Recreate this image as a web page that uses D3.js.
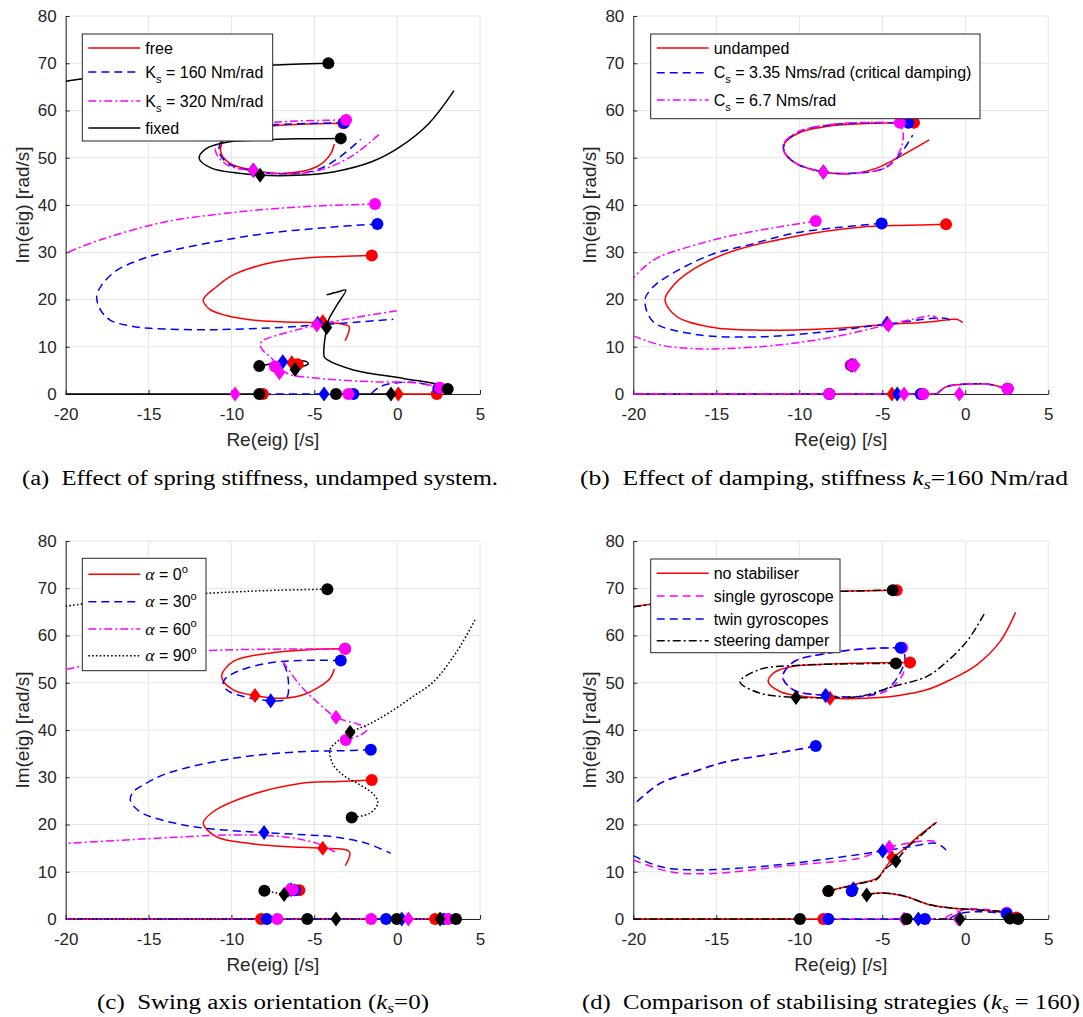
<!DOCTYPE html>
<html>
<head>
<meta charset="utf-8">
<script src="https://cdn.jsdelivr.net/npm/d3@7"></script>
<style>
  body { margin: 0; background: #fff; }
  svg { display: block; }
</style>
</head>
<body>
<svg id="fig" width="1083" height="1017"></svg>
<script>
// ---------- shared axes ----------
const X_TICKS = [-20, -15, -10, -5, 0, 5];
const Y_TICKS = [0, 10, 20, 30, 40, 50, 60, 70, 80];

// ---------- (a) effect of spring stiffness ----------
const A_LABELS = ["free", "K_s = 160 Nm/rad", "K_s = 320 Nm/rad", "fixed"];

const aFreeLoop = [[-3.25,57.3],[-5.86,57.1],[-7.87,56.7],[-9.89,56.3],[-10.49,53.8],[-10.65,51.3],[-10.09,48.8],[-8.68,47.4],[-6.87,46.7],[-4.85,48.1],[-4.05,50.6],[-3.79,52.9]];
const aFreeMid = [[-1.53,29.3],[-3.5,29.1],[-5.86,28.7],[-7.5,27.9],[-8.88,26.6],[-10,25.0],[-10.9,22.7],[-11.7,19.9],[-11.3,17.9],[-10.3,16.6],[-8.88,15.7],[-7,15.3],[-4.85,15.1],[-3.5,14.9],[-2.9,14.3],[-2.95,12.8],[-3.14,11.3]];
const aFreeAxis = [[0.07,0],[2.39,0]];
const aFreeCircles = [[-3.25,57.3],[-1.53,29.3],[-8.1,0],[2.39,0],[-6.0,6.3]];
const aFreeDiamonds = [[-8.68,47.4],[-4.49,15.3],[-6.36,6.6],[0.07,0]];

const aK160Loop = [[-3.2,57.4],[-5.86,57.2],[-7.87,56.9],[-9.89,56.4],[-10.55,54.0],[-10.75,51.3],[-10.2,48.8],[-8.68,47.2],[-6.87,46.6],[-4.85,47.4],[-3.45,50.2],[-2.2,53.9]];
const aK160Mid = [[-1.19,36.0],[-4,35.3],[-7.87,34.0],[-11,32.2],[-13.9,30.1],[-15.6,28.3],[-16.9,26.2],[-17.8,23.2],[-18.13,20.6],[-17.9,17.8],[-17.3,15.6],[-16.1,14.4],[-14.9,13.9],[-12,13.6],[-9.9,13.7],[-7,14.1],[-4.85,14.6],[-2.5,15.2],[-0.23,15.8]];
const aK160Low = [[-1.55,0.1],[-1.03,1.55],[0.0,2.4],[1.39,2.3],[2.49,1.2]];
const aK160Axis = [[-8.1,0],[-4.41,0]];
const aK160Circles = [[-3.2,57.4],[-1.19,36.0],[-2.64,0],[2.49,1.2]];
const aK160Diamonds = [[-8.68,47.3],[-4.8,15.0],[-6.9,6.8],[-4.41,0]];

const aK320Loop = [[-3.08,58.0],[-5.86,57.8],[-7.87,57.4],[-9.89,56.8],[-10.75,54.3],[-10.95,51.3],[-10.3,48.6],[-8.68,47.2],[-6.87,46.6],[-4.85,47.2],[-2.8,50.2],[-1.07,55.0]];
const aK320Mid = [[-1.33,40.2],[-4.8,39.8],[-7.87,39.1],[-9.9,38.4],[-13.9,36.5],[-17.93,32.6],[-20,29.8]];
const aK320Low = [[-0.02,17.6],[-2.5,16.2],[-4.85,14.6],[-6.87,12.8],[-8.0,11.5],[-8.27,10.6],[-8.1,9.2],[-7.67,7.9],[-6.66,4.4],[-4.65,3.3],[-1.63,2.6],[1.39,2.3],[2.59,1.3]];
const aK320Circles = [[-3.08,58.0],[-1.33,40.2],[-2.94,0],[2.59,1.3],[-7.37,5.8]];
const aK320Diamonds = [[-8.68,47.3],[-4.85,14.6],[-7.1,4.5],[-9.78,0]];

const aFixedTop = [[-20,66.2],[-17,67.6],[-14,68.5],[-10,69.3],[-7,69.7],[-4.15,70.0]];
const aFixedLoop = [[-3.4,54.1],[-6.0,54.0],[-8.5,53.7],[-10.1,53.4],[-11.5,52.0],[-11.95,49.9],[-11.2,47.8],[-9.5,46.7],[-8.27,46.3],[-6.0,46.3],[-3.85,47.0],[-1.5,49.2],[0.17,52.3],[1.9,57.2],[3.43,64.2]];
const aFixedLow = [[3.05,1.06],[2.59,1.9],[0.37,3.3],[-2.64,5.1],[-4.2,7.2],[-4.4,7.9],[-4.4,10.5],[-4.3,13],[-4.25,14.1],[-4.1,16],[-3.6,19],[-3.1,22.0],[-3.6,21.6],[-4.25,21.0]];
const aFixedSmall = [[-8.32,5.9],[-7.2,6.6],[-6.2,7.0],[-5.5,6.9],[-5.36,6.4],[-5.8,5.7],[-6.16,5.2]];
const aFixedAxisL = [[-20,0],[-8.32,0]];
const aFixedAxisR = [[-3.69,0],[-0.37,0]];
const aFixedCircles = [[-4.15,70.0],[-3.4,54.1],[3.05,1.06],[-8.32,5.9],[-8.32,0],[-3.69,0]];
const aFixedDiamonds = [[-8.27,46.3],[-4.25,14.1],[-6.16,5.2],[-0.37,0]];

// ---------- (b) effect of damping ----------
const B_LABELS = ["undamped", "C_s = 3.35 Nms/rad (critical damping)", "C_s = 6.7 Nms/rad"];

const bUndLoop = [[-3.09,57.4],[-5.5,57.3],[-8,56.8],[-10,55.3],[-10.9,53.0],[-10.92,51.3],[-10.2,48.8],[-8.55,47.0],[-6.95,46.6],[-5.34,47.8],[-4.34,49.5],[-2.17,53.8]];
const bUndMid = [[-1.16,35.9],[-3.5,35.7],[-6.35,35.3],[-10.36,33.3],[-14.37,29.8],[-16.78,25.5],[-17.7,22.5],[-18.09,19.9],[-17.39,16.4],[-15.38,14.2],[-12.37,13.5],[-8.35,13.8],[-4.73,14.7],[-2,15.3],[-0.52,15.8],[-0.16,15.1]];
const bUndSmall = [[-1.72,0],[-1.12,1.55],[0.08,2.1],[1.29,2.1],[2.55,1.1]];
const bUndAxis = [[-20,0],[-1.72,0]];
const bUndCircles = [[-3.09,57.4],[-1.16,35.9],[-6.9,6.1],[-8.19,0],[-2.6,0],[2.55,1.1]];
const bUndDiamonds = [[-8.55,47.0],[-4.73,15.0],[-6.9,6.1],[-4.42,0]];

const bCritLoop = [[-3.43,57.4],[-5.5,57.4],[-8,57.0],[-10,55.5],[-10.9,53.0],[-10.9,51.3],[-10.2,48.8],[-8.55,47.0],[-6.95,46.7],[-5,47.6],[-4.34,49.2],[-3.74,51.6],[-3.17,54.8]];
const bCritMid = [[-5.04,36.1],[-7.5,35.3],[-10.36,34.0],[-13,31.6],[-15.38,29.4],[-17.99,24.8],[-18.9,22.3],[-19.3,19.9],[-18.8,15.3],[-16.39,12.7],[-12.37,12.1],[-8.35,13.2],[-4.73,14.8],[-1.12,16.0],[-0.95,15.5]];
const bCritSmall = [[-1.72,0],[-1.12,1.55],[0.08,2.1],[1.29,2.1],[2.55,1.1]];
const bCritAxis = [[-20,0],[-1.72,0]];
const bCritCircles = [[-3.43,57.4],[-5.04,36.1],[-6.85,6.1],[-8.19,0],[-2.69,0],[2.55,1.1]];
const bCritDiamonds = [[-8.55,47.0],[-4.7,14.9],[-6.8,6.1],[-4.1,0]];

const bHighLoop = [[-3.94,57.4],[-5.5,57.5],[-8,57.1],[-10,55.6],[-10.95,53.0],[-10.9,51.3],[-10.2,48.8],[-8.55,47.0],[-6.95,46.7],[-5,47.6],[-4.43,48.8],[-3.84,52.3],[-3.74,55.2],[-3.85,56.6]];
const bHighUp = [[-9.01,36.6],[-11.5,35.2],[-14.37,33.3],[-16.5,31.3],[-18.39,29.1],[-19.3,27.0],[-20,24.5]];
const bHighLow = [[-20,12.3],[-18.39,10.4],[-16.4,9.6],[-12.37,10.0],[-8.35,11.8],[-4.73,14.6],[-3.33,15.7],[-1.93,16.5],[-1.63,15.7]];
const bHighSmall = [[-1.72,0],[-1.12,1.55],[0.08,2.1],[1.29,2.1],[2.55,1.1]];
const bHighAxis = [[-20,0],[-1.72,0]];
const bHighCircles = [[-3.94,57.4],[-9.01,36.6],[-6.8,6.1],[-8.19,0],[-2.53,0],[2.55,1.1]];
const bHighDiamonds = [[-8.55,47.0],[-4.63,14.6],[-6.64,6.1],[-3.69,0],[-0.36,0]];

// ---------- (c) swing axis orientation ----------
const C_LABELS = ["α = 0^o", "α = 30^o", "α = 60^o", "α = 90^o"];

const cRedLoop = [[-3.14,57.2],[-4.85,57.1],[-7.87,56.2],[-9.89,54.5],[-10.59,51.3],[-9.89,48.5],[-8.58,47.3],[-7.27,46.7],[-5.8,47.3],[-4.85,48.8],[-4.05,50.9],[-3.79,52.9]];
const cRedMid = [[-1.53,29.4],[-3.5,29.1],[-5.86,28.7],[-8.88,26.2],[-11.1,22.7],[-11.7,20.3],[-10.9,17.4],[-8.88,16.0],[-6.5,15.3],[-4.49,15.0],[-3.04,14.6],[-2.85,14.0],[-2.95,12.5],[-3.14,11.3]];
const cRedAxis = [[-20,0],[2.29,0]];
const cRedCircles = [[-3.14,57.2],[-1.53,29.4],[-5.9,6.1],[-8.21,0],[2.29,0]];
const cRedDiamonds = [[-8.58,47.3],[-4.49,15.0]];

const cBlueLoop = [[-3.4,54.7],[-5.86,54.7],[-7.87,54.1],[-9.89,52.0],[-10.49,50.2],[-10.29,48.5],[-9.28,47.1],[-7.63,46.2],[-6.8,46.4],[-6.6,47.3],[-6.55,49.5],[-6.65,52.3],[-6.87,54.2]];
const cBlueMid = [[-1.59,35.8],[-3.5,35.6],[-5.86,35.4],[-9.88,34.0],[-13.9,30.8],[-15.3,28.4],[-15.92,26.9],[-16.1,25.2],[-15.52,22.7],[-12.9,19.9],[-10,18.7],[-8.03,18.3],[-5.5,17.8],[-3.85,17.4],[-1.83,16.0],[-0.39,13.9]];
const cBlueAxis = [[-20,0],[2.8,0]];
const cBlueCircles = [[-3.4,54.7],[-1.59,35.8],[-6.16,6.1],[-7.87,0],[-0.67,0],[2.8,0]];
const cBlueDiamonds = [[-7.63,46.2],[-8.03,18.3],[-6.4,6.2],[0.28,0]];

const cMagTop = [[-3.14,57.1],[-7.87,57.1],[-11.9,56.7],[-15.92,55.5],[-20,52.8]];
const cMagBranch = [[-6.9,54.5],[-5.86,49.5],[-4.85,46.0],[-3.69,42.7],[-2.6,41.5],[-1.9,40.6],[-1.83,40.0],[-2.24,38.9],[-3.1,37.9]];
const cMagLow = [[-3.75,14.2],[-4.85,16.0],[-6.87,17.4],[-9.88,17.8],[-13.9,17.2],[-17,16.6],[-20,16.0]];
const cMagAxis = [[-20,0],[3.09,0]];
const cMagCircles = [[-3.14,57.2],[-3.1,37.9],[-6.3,6.2],[-7.23,0],[-1.57,0],[3.09,0]];
const cMagDiamonds = [[-3.69,42.7],[-6.56,6.1],[0.68,0]];

const cBlackTop = [[-20,66.2],[-17,67.5],[-14,68.4],[-10,69.2],[-7,69.6],[-4.21,69.8]];
const cBlackRight = [[4.7,63.3],[3.6,56.6],[2.19,50.2],[1.0,47.2],[-0.42,43.8],[-1.6,41.4],[-2.84,39.5],[-3.6,37.6],[-4.05,35.8],[-3.85,32.6],[-3.2,30.3],[-2.24,28.4],[-1.4,26.3],[-1.17,24.5],[-1.64,22.4],[-2.74,21.5]];
const cBlackSmall = [[-8.01,6.0],[-6.82,5.2]];
const cBlackAxis = [[-20,0],[3.55,0]];
const cBlackCircles = [[-4.21,69.8],[-2.74,21.5],[-8.01,6.0],[-5.42,0],[-0.02,0],[3.55,0]];
const cBlackDiamonds = [[-2.84,39.5],[-6.82,5.2],[-3.69,0],[2.59,0]];

// ---------- (d) stabilising strategies ----------
const D_LABELS = ["no stabiliser", "single gyroscope", "twin gyroscopes", "steering damper"];

const dRedTop = [[-20,66.1],[-17,67.4],[-14,68.3],[-10,69.0],[-7,69.4],[-4.13,69.6]];
const dRedLoop = [[-3.33,54.3],[-6,54.2],[-8.5,53.9],[-10.36,53.5],[-11.5,52.2],[-11.87,50.2],[-11.2,48.2],[-10.36,47.4],[-8.15,46.7],[-6,46.7],[-4,47.3],[-2.33,48.5],[-0.8,50.8],[0.69,53.8],[2.09,58.7],[3.03,64.9]];
const dRedMid = [[-8.25,5.9],[-6.35,7.6],[-5.34,8.6],[-4.84,10.7],[-4.43,12.6],[-3.53,15.3],[-2.73,17.8],[-1.72,20.5]];
const dRedLow = [[-5.94,5.1],[-5.54,5.4],[-4.54,5.4],[-3.53,4.7],[-2.13,3.0],[-0.7,2.26],[0.89,1.9],[2.49,1.2],[3.07,0.3]];
const dRedAxis = [[-20,0],[-8.55,0]];
const dRedCircles = [[-4.13,69.6],[-3.33,54.3],[-8.25,5.9],[-8.55,0],[3.07,0.3]];
const dRedDiamonds = [[-8.15,46.7],[-4.43,13.0]];

const dMagLoop = [[-3.8,57.4],[-6,57.2],[-8.35,56.2],[-10.3,54.5],[-11.0,51.3],[-10.36,48.5],[-8.41,47.3],[-6.9,47.0],[-5.5,47.4],[-4.64,48.5],[-3.8,51.5],[-3.5,55.5]];
const dMagUp = [[-9.01,36.6],[-11.5,35.0],[-14.37,33.3],[-16.5,31.0],[-18.39,28.7],[-20,24.1]];
const dMagLow = [[-20,12.5],[-17.8,10.0],[-15.4,9.6],[-10.36,11.4],[-6.35,12.9],[-4.58,15.2],[-1.93,16.5],[-1.63,15.8]];
const dMagSmall = [[-1.2,0.3],[-0.5,1.5],[0.08,2.1],[1.3,2.0],[2.49,1.3]];
const dMagAxis = [[-8.5,0],[-0.4,0]];
const dMagCircles = [[-3.8,57.4],[-6.84,5.9],[-8.3,0],[2.49,1.3]];
const dMagDiamonds = [[-8.41,47.3],[-4.58,15.2],[-3.69,0],[-0.42,0]];

const dBlueLoop = [[-3.89,57.4],[-6,57.2],[-8.35,56.2],[-10.3,54.5],[-11.0,51.3],[-10.36,48.5],[-8.41,47.3],[-6.9,47.0],[-5.5,47.6],[-4.34,49.9],[-3.63,54.8],[-3.7,56.5]];
const dBlueUp = [[-9.01,36.6],[-11.5,35.0],[-14.37,33.3],[-16.5,31.0],[-18.39,28.7],[-20,24.1]];
const dBlueLow = [[-20,13.4],[-18.39,11.1],[-16.39,10.4],[-12.37,11.1],[-8.35,12.7],[-4.98,14.4],[-3.3,15.3],[-1.72,16.0],[-1.16,14.6]];
const dBlueSmall = [[-0.92,0.2],[-0.32,1.2],[0.89,1.55],[2.49,1.2]];
const dBlueAxis = [[-8.25,0],[-2.43,0]];
const dBlueCircles = [[-3.89,57.4],[-9.01,36.6],[-6.84,5.9],[-8.25,0],[-2.43,0],[2.49,1.1]];
const dBlueDiamonds = [[-8.41,47.3],[-4.98,14.4],[-6.74,6.4],[-2.83,0]];

const dBlackTop = [[-20,66.1],[-17,67.4],[-14,68.3],[-10,69.0],[-7,69.4],[-4.37,69.6]];
const dBlackLoop = [[-4.18,54.1],[-7,54.0],[-10,53.7],[-12.3,52.9],[-13.57,50.2],[-12.37,47.8],[-10.2,46.9],[-7.5,46.9],[-6.35,47.1],[-4.34,49.2],[-2.33,51.3],[-1.33,53.8],[0.08,58.7],[1.13,64.5]];
const dBlackMid = [[-8.25,5.9],[-6.35,7.5],[-5.34,8.4],[-4.84,10.5],[-4.18,12.3],[-3.53,15.0],[-2.73,17.5],[-1.8,20.3]];
const dBlackLow = [[-5.94,5.1],[-5.54,5.4],[-4.54,5.4],[-3.53,4.7],[-2.13,3.0],[-0.7,2.26],[0.89,1.9],[2.49,1.2],[2.69,0.1]];
const dBlackAxisL = [[-20,0],[-9.96,0]];
const dBlackAxisR = [[-3.53,0],[-0.32,0]];
const dBlackCircles = [[-4.37,69.6],[-4.18,54.1],[-8.25,5.9],[-9.96,0],[-3.53,0],[2.69,0.1],[3.19,0]];
const dBlackDiamonds = [[-10.2,46.9],[-4.18,12.3],[-5.94,5.1],[-0.32,0]];

// ---------- styles ----------
const SANS = "'Liberation Sans', Arial, Helvetica, sans-serif";
const SERIF = "'Liberation Serif', 'Times New Roman', serif";
const INK = "#262626";
const RED = "#ff0000", BLUE = "#0000ff", MAG = "#ff00ff", BLK = "#000000";
const DASH = "8,5", DASHDOT = "8,3,2,3", DOT = "1.6,2.2";

const svg = d3.select("#fig");

// text with _x subscripts, ^x superscripts and an italic serif alpha
function richText(parent, str, x, base, size) {
  const t = parent.append("text").attr("x", x).attr("y", base)
    .attr("font-family", SANS).attr("font-size", size).attr("fill", "#000");
  str.split(/(_.|\^.|α)/).filter(s => s.length).forEach(tok => {
    if (tok[0] === "_" && tok.length === 2) {
      t.append("tspan").text(tok[1]).attr("y", base + size * 0.32).attr("font-size", size * 0.7);
    } else if (tok[0] === "^" && tok.length === 2) {
      t.append("tspan").text(tok[1]).attr("y", base - size * 0.45).attr("font-size", size * 0.7);
    } else if (tok === "α") {
      t.append("tspan").text(tok).attr("y", base).attr("font-family", SERIF)
        .attr("font-style", "italic").attr("font-size", size * 1.1);
    } else {
      t.append("tspan").text(tok).attr("y", base);
    }
  });
  return t;
}

function caption(pieces, x0, width, base) {
  const t = svg.append("text").attr("x", x0).attr("y", base)
    .attr("font-family", SERIF).attr("font-size", 20).attr("fill", "#000")
    .attr("textLength", width).attr("lengthAdjust", "spacingAndGlyphs")
    .style("white-space", "pre");
  pieces.forEach(p => {
    const s = t.append("tspan").text(p.t);
    if (p.i) s.attr("font-style", "italic");
    if (p.sub) s.attr("font-size", 14).attr("y", base + 4);
    else s.attr("y", base);
  });
}

const diamond = "M0,-7.5L5.5,0L0,7.5L-5.5,0Z";
let clipCount = 0;

function drawPanel(cfg) {
  const { l, r, t, b } = cfg.box;
  const x = d3.scaleLinear().domain([-20, 5]).range([l, r]);
  const y = d3.scaleLinear().domain([0, 80]).range([b, t]);
  const g = svg.append("g");

  // grid
  g.append("g").selectAll("line").data(X_TICKS).join("line")
    .attr("x1", d => x(d)).attr("x2", d => x(d)).attr("y1", t).attr("y2", b)
    .attr("stroke", "#e6e6e6").attr("stroke-width", 1);
  g.append("g").selectAll("line").data(Y_TICKS).join("line")
    .attr("x1", l).attr("x2", r).attr("y1", d => y(d)).attr("y2", d => y(d))
    .attr("stroke", "#e6e6e6").attr("stroke-width", 1);

  // axes (ticks point inward)
  const xa = g.append("g").attr("transform", `translate(0,${b})`)
    .call(d3.axisBottom(x).tickValues(X_TICKS).tickFormat(d => String(d))
      .tickSize(-4).tickSizeOuter(0).tickPadding(14));
  const ya = g.append("g").attr("transform", `translate(${l},0)`)
    .call(d3.axisLeft(y).tickValues(Y_TICKS).tickFormat(d => String(d))
      .tickSize(-4).tickSizeOuter(0).tickPadding(9));
  [xa, ya].forEach(a => {
    a.attr("font-family", SANS).attr("font-size", 17);
    a.select(".domain").attr("stroke", INK);
    a.selectAll(".tick line").attr("stroke", INK);
    a.selectAll(".tick text").attr("fill", INK);
  });

  g.append("text").text("Re(eig) [/s]")
    .attr("x", (l + r) / 2).attr("y", b + 52).attr("text-anchor", "middle")
    .attr("font-family", SANS).attr("font-size", 19).attr("fill", INK);
  g.append("text").text("Im(eig) [rad/s]")
    .attr("transform", `translate(${l - 37},${(t + b) / 2}) rotate(-90)`)
    .attr("text-anchor", "middle")
    .attr("font-family", SANS).attr("font-size", 19).attr("fill", INK);

  // data
  const id = "clip" + (clipCount++);
  svg.append("clipPath").attr("id", id).append("rect")
    .attr("x", l).attr("y", t).attr("width", r - l).attr("height", b - t + 3);
  const line = d3.line().x(d => x(d[0])).y(d => y(d[1]))
    .curve(d3.curveCatmullRom.alpha(0.5));
  const lg = g.append("g").attr("clip-path", `url(#${id})`);
  cfg.series.forEach(s => {
    s.lines.forEach(pts => {
      lg.append("path").attr("d", line(pts)).attr("fill", "none")
        .attr("stroke", s.color).attr("stroke-width", 1.5)
        .attr("stroke-dasharray", s.dash)
        .attr("stroke-linejoin", "round");
    });
  });
  const mg = g.append("g");
  cfg.series.forEach(s => {
    mg.append("g").selectAll("circle").data(s.circles).join("circle")
      .attr("cx", d => x(d[0])).attr("cy", d => y(d[1])).attr("r", 6)
      .attr("fill", s.color);
    mg.append("g").selectAll("path").data(s.diamonds).join("path")
      .attr("d", diamond)
      .attr("transform", d => `translate(${x(d[0])},${y(d[1])})`)
      .attr("fill", s.color);
  });

  // legend
  const L = cfg.legend;
  const lx = l + L.x, ly = t + L.y;
  const leg = g.append("g");
  leg.append("rect").attr("x", lx).attr("y", ly).attr("width", L.w).attr("height", L.h)
    .attr("fill", "#fff").attr("stroke", INK).attr("stroke-width", 1);
  cfg.series.forEach((s, i) => {
    const ry = ly + L.rows[i];
    leg.append("line").attr("x1", lx + 6).attr("x2", lx + 58).attr("y1", ry).attr("y2", ry)
      .attr("stroke", s.color).attr("stroke-width", 1.5).attr("stroke-dasharray", s.dash);
    richText(leg, cfg.labels[i], lx + 63, ry + 5.5, 16);
  });
}

// ---------- panels ----------
drawPanel({
  box: { l: 65.7, r: 480, t: 16, b: 394 },
  labels: A_LABELS,
  legend: { x: 16.6, y: 18, w: 190.4, h: 107, rows: [14, 38, 67, 94] },
  series: [
    { color: RED, dash: null, lines: [aFreeLoop, aFreeMid, aFreeAxis], circles: aFreeCircles, diamonds: aFreeDiamonds },
    { color: BLUE, dash: DASH, lines: [aK160Loop, aK160Mid, aK160Low, aK160Axis], circles: aK160Circles, diamonds: aK160Diamonds },
    { color: MAG, dash: DASHDOT, lines: [aK320Loop, aK320Mid, aK320Low], circles: aK320Circles, diamonds: aK320Diamonds },
    { color: BLK, dash: null, lines: [aFixedTop, aFixedLoop, aFixedLow, aFixedSmall, aFixedAxisL, aFixedAxisR], circles: aFixedCircles, diamonds: aFixedDiamonds }
  ]
});

drawPanel({
  box: { l: 633.3, r: 1048.3, t: 16, b: 394 },
  labels: B_LABELS,
  legend: { x: 17.4, y: 18, w: 329.3, h: 84.7, rows: [14, 38.7, 66] },
  series: [
    { color: RED, dash: null, lines: [bUndLoop, bUndMid, bUndSmall, bUndAxis], circles: bUndCircles, diamonds: bUndDiamonds },
    { color: BLUE, dash: DASH, lines: [bCritLoop, bCritMid, bCritSmall, bCritAxis], circles: bCritCircles, diamonds: bCritDiamonds },
    { color: MAG, dash: DASHDOT, lines: [bHighLoop, bHighUp, bHighLow, bHighSmall, bHighAxis], circles: bHighCircles, diamonds: bHighDiamonds }
  ]
});

drawPanel({
  box: { l: 65.7, r: 480, t: 541, b: 919 },
  labels: C_LABELS,
  legend: { x: 16.6, y: 17.3, w: 123.7, h: 112.4, rows: [16, 43.4, 70.7, 97.4] },
  series: [
    { color: RED, dash: null, lines: [cRedLoop, cRedMid, cRedAxis], circles: cRedCircles, diamonds: cRedDiamonds },
    { color: BLUE, dash: DASH, lines: [cBlueLoop, cBlueMid, cBlueAxis], circles: cBlueCircles, diamonds: cBlueDiamonds },
    { color: MAG, dash: DASHDOT, lines: [cMagTop, cMagBranch, cMagLow, cMagAxis], circles: cMagCircles, diamonds: cMagDiamonds },
    { color: BLK, dash: DOT, lines: [cBlackTop, cBlackRight, cBlackSmall, cBlackAxis], circles: cBlackCircles, diamonds: cBlackDiamonds }
  ]
});

drawPanel({
  box: { l: 633.3, r: 1048.3, t: 541, b: 919 },
  labels: D_LABELS,
  legend: { x: 17.4, y: 18, w: 189.3, h: 93.7, rows: [14.3, 37, 60, 81.7] },
  series: [
    { color: RED, dash: null, lines: [dRedTop, dRedLoop, dRedMid, dRedLow, dRedAxis], circles: dRedCircles, diamonds: dRedDiamonds },
    { color: MAG, dash: DASH, lines: [dMagLoop, dMagUp, dMagLow, dMagSmall, dMagAxis], circles: dMagCircles, diamonds: dMagDiamonds },
    { color: BLUE, dash: DASH, lines: [dBlueLoop, dBlueUp, dBlueLow, dBlueSmall, dBlueAxis], circles: dBlueCircles, diamonds: dBlueDiamonds },
    { color: BLK, dash: DASHDOT, lines: [dBlackTop, dBlackLoop, dBlackMid, dBlackLow, dBlackAxisL, dBlackAxisR], circles: dBlackCircles, diamonds: dBlackDiamonds }
  ]
});

// ---------- sub-figure captions ----------
caption([{ t: "(a)  Effect of spring stiffness, undamped system." }], 22, 476, 485);
caption([{ t: "(b)  Effect of damping, stiffness " }, { t: "k", i: 1 }, { t: "s", i: 1, sub: 1 }, { t: "=160 Nm/rad" }], 580, 488, 485);
caption([{ t: "(c)  Swing axis orientation (" }, { t: "k", i: 1 }, { t: "s", i: 1, sub: 1 }, { t: "=0)" }], 97, 332, 1009);
caption([{ t: "(d)  Comparison of stabilising strategies (" }, { t: "k", i: 1 }, { t: "s", i: 1, sub: 1 }, { t: " = 160)" }], 582, 498, 1009);
</script>
</body>
</html>
